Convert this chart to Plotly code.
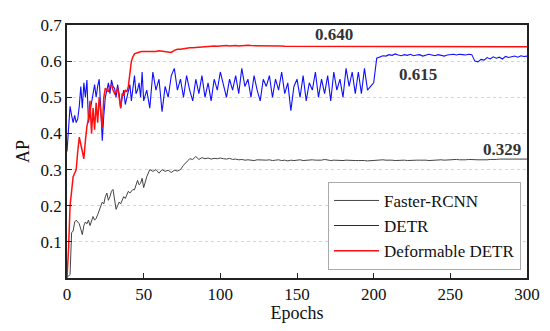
import plotly.graph_objects as go

# Epoch sampling: every epoch for 0-49, every 2 epochs for 50-300
epochs = list(range(0, 50)) + list(range(50, 301, 2))

faster_rcnn = [
    0.005, 0.005, 0.01, 0.125, 0.13, 0.155, 0.16, 0.155, 0.15, 0.135,
    0.12, 0.145, 0.155, 0.15, 0.16, 0.145, 0.16, 0.17, 0.16, 0.165,
    0.175, 0.185, 0.2, 0.21, 0.205, 0.225, 0.235, 0.215, 0.225, 0.24,
    0.245, 0.22, 0.19, 0.2, 0.21, 0.205, 0.215, 0.225, 0.22, 0.23,
    0.24, 0.235, 0.24, 0.245, 0.244, 0.255, 0.27, 0.258, 0.262, 0.276,
    # 50..300 step 2
    0.25, 0.28, 0.30, 0.295, 0.30, 0.29, 0.30, 0.295, 0.298, 0.292,
    0.298, 0.296, 0.30, 0.312, 0.322, 0.33, 0.328, 0.336, 0.328, 0.333,
    0.33, 0.332, 0.329, 0.331, 0.33, 0.332, 0.33, 0.329, 0.331, 0.328,
    0.329, 0.327, 0.328, 0.326, 0.327, 0.326, 0.325, 0.327, 0.326, 0.325,
    0.326, 0.327, 0.325, 0.326, 0.327, 0.325, 0.326, 0.324, 0.326, 0.325,
    0.326, 0.327, 0.325, 0.326, 0.325, 0.327, 0.326, 0.325, 0.326, 0.328,
    0.326, 0.325, 0.326, 0.325, 0.324, 0.325, 0.326, 0.325, 0.324, 0.325,
    0.325, 0.326, 0.325, 0.324, 0.325, 0.326, 0.325, 0.326, 0.327, 0.326,
    0.327, 0.326, 0.325, 0.326, 0.327, 0.326, 0.325, 0.326, 0.327, 0.326,
    0.326, 0.327, 0.326, 0.325, 0.326, 0.327, 0.326, 0.327, 0.326, 0.327,
    0.326, 0.327, 0.328, 0.327, 0.326, 0.327, 0.328, 0.327, 0.326, 0.327,
    0.327, 0.326, 0.327, 0.328, 0.327, 0.328, 0.329, 0.329, 0.329, 0.329,
    0.329, 0.329, 0.329, 0.329, 0.329, 0.329,
]

detr = [
    0.35, 0.42, 0.475, 0.45, 0.43, 0.45, 0.43, 0.44, 0.475, 0.53,
    0.47, 0.54, 0.50, 0.548, 0.43, 0.46, 0.49, 0.51, 0.535, 0.50,
    0.53, 0.55, 0.47, 0.38, 0.45, 0.50, 0.52, 0.54, 0.51, 0.548,
    0.53, 0.525, 0.50, 0.535, 0.51, 0.47, 0.50, 0.52, 0.48, 0.50,
    0.52, 0.535, 0.49, 0.52, 0.56, 0.51, 0.52, 0.54, 0.50, 0.57,
    # 50..300 step 2
    0.49, 0.52, 0.47, 0.57, 0.52, 0.55, 0.46, 0.53, 0.50, 0.56,
    0.58, 0.52, 0.55, 0.50, 0.56, 0.52, 0.49, 0.55, 0.51, 0.56,
    0.50, 0.54, 0.49, 0.55, 0.52, 0.57, 0.53, 0.50, 0.55, 0.52,
    0.56, 0.51, 0.58, 0.53, 0.55, 0.50, 0.56, 0.52, 0.49, 0.55,
    0.53, 0.56, 0.50, 0.55, 0.52, 0.57, 0.51, 0.54, 0.463, 0.53,
    0.55, 0.50, 0.56, 0.49, 0.54, 0.52, 0.57, 0.50, 0.55, 0.51,
    0.56, 0.49, 0.57, 0.52, 0.55, 0.50, 0.58, 0.53, 0.57, 0.51,
    0.57, 0.51, 0.58, 0.52, 0.53, 0.54, 0.608, 0.612, 0.615, 0.614,
    0.618, 0.616, 0.620, 0.617, 0.615, 0.618, 0.616, 0.619, 0.615, 0.617,
    0.618, 0.614, 0.616, 0.619, 0.617, 0.615, 0.618, 0.616, 0.614, 0.617,
    0.618, 0.619, 0.617, 0.619, 0.618, 0.617, 0.619, 0.618, 0.600, 0.598,
    0.605, 0.603, 0.610, 0.606, 0.612, 0.608, 0.611, 0.606, 0.613, 0.610,
    0.612, 0.614, 0.611, 0.615, 0.613, 0.614,
]

deformable_detr = [
    0.0, 0.08, 0.2, 0.25, 0.28, 0.29, 0.30, 0.35, 0.39, 0.37,
    0.35, 0.33, 0.38, 0.42, 0.44, 0.49, 0.40, 0.47, 0.41, 0.485,
    0.43, 0.50, 0.46, 0.415, 0.50, 0.525, 0.52, 0.515, 0.53, 0.535,
    0.52, 0.51, 0.515, 0.525, 0.50, 0.47, 0.51, 0.505, 0.52, 0.515,
    0.53, 0.56, 0.60, 0.612, 0.62, 0.622, 0.624, 0.625, 0.626, 0.627,
    # 50..300 step 2
    0.627, 0.626, 0.627, 0.628, 0.627, 0.629, 0.628, 0.627, 0.626, 0.624,
    0.630, 0.633, 0.633, 0.635, 0.636, 0.637, 0.637, 0.638, 0.639, 0.640,
    0.640, 0.641, 0.641, 0.642, 0.641, 0.642, 0.642, 0.643, 0.642, 0.643,
    0.643, 0.642, 0.643, 0.643, 0.644, 0.643, 0.643, 0.644, 0.643, 0.643,
    0.644, 0.644, 0.643, 0.643, 0.642, 0.642, 0.641, 0.641, 0.641, 0.640,
    0.640, 0.640, 0.640, 0.640, 0.640, 0.640, 0.640, 0.640, 0.640, 0.640,
    0.640, 0.640, 0.640, 0.640, 0.640, 0.640, 0.640, 0.640, 0.640, 0.640,
    0.640, 0.640, 0.640, 0.640, 0.640, 0.640, 0.640, 0.640, 0.640, 0.640,
    0.640, 0.640, 0.640, 0.640, 0.640, 0.640, 0.640, 0.640, 0.640, 0.640,
    0.640, 0.640, 0.640, 0.640, 0.640, 0.640, 0.640, 0.640, 0.640, 0.640,
    0.640, 0.640, 0.640, 0.640, 0.640, 0.640, 0.640, 0.640, 0.640, 0.640,
    0.640, 0.640, 0.640, 0.640, 0.640, 0.640, 0.640, 0.640, 0.640, 0.640,
    0.640, 0.640, 0.640, 0.640, 0.640, 0.640,
]

series_names = ["Faster-RCNN", "DETR", "Deformable DETR"]
series_colors = ["#444444", "#1010ff", "#ff1010"]
series_widths = [1.0, 1.1, 1.5]

final_labels = ["0.640", "0.615", "0.329"]
label_x = [174, 229, 284]
label_y = [0.673, 0.562, 0.356]

x_ticks = [0, 50, 100, 150, 200, 250, 300]
y_ticks = [0.1, 0.2, 0.3, 0.4, 0.5, 0.6, 0.7]

FONT = "Liberation Serif, Times New Roman, serif"

fig = go.Figure()
for name, vals, col, w in zip(series_names, [faster_rcnn, detr, deformable_detr],
                              series_colors, series_widths):
    fig.add_trace(go.Scatter(x=epochs, y=vals, mode="lines", name=name,
                             line=dict(color=col, width=w)))

for t, xv, yv in zip(final_labels, label_x, label_y):
    fig.add_annotation(x=xv, y=yv, text="<b>" + t + "</b>", showarrow=False,
                       font=dict(family=FONT, size=17, color="#333333"),
                       xanchor="center", yanchor="middle")

fig.update_layout(
    width=534, height=315,
    margin=dict(l=59, r=15, t=17, b=45),
    paper_bgcolor="white", plot_bgcolor="white",
    font=dict(family=FONT, size=17, color="#111111"),
    showlegend=True,
    legend=dict(x=0.987, y=0.032, xanchor="right", yanchor="bottom",
                bgcolor="white", bordercolor="#aaaaaa", borderwidth=1,
                font=dict(family=FONT, size=17, color="#111111"),
                tracegroupgap=0, itemwidth=45),
)
fig.update_xaxes(range=[0, 300], tickvals=x_ticks, ticks="inside", ticklen=5,
                 tickcolor="#222222", showline=True, linecolor="#222222",
                 linewidth=1.5, mirror=True, showgrid=False, zeroline=False,
                 automargin=False,
                 title=dict(text="Epochs", standoff=0, font=dict(family=FONT, size=18)),
                 tickfont=dict(family=FONT, size=17))
fig.update_yaxes(range=[0, 0.7], tickvals=y_ticks, ticktext=[f"{v:.1f}" for v in y_ticks],
                 ticks="inside", ticklen=5, tickcolor="#222222", showline=True,
                 linecolor="#222222", linewidth=1.5, mirror=True, showgrid=True,
                 gridcolor="#d4d4d4", griddash="dot", gridwidth=1, zeroline=False,
                 automargin=False,
                 title=dict(text="AP", standoff=6, font=dict(family=FONT, size=18)),
                 tickfont=dict(family=FONT, size=17))

fig.write_html("out.html")
